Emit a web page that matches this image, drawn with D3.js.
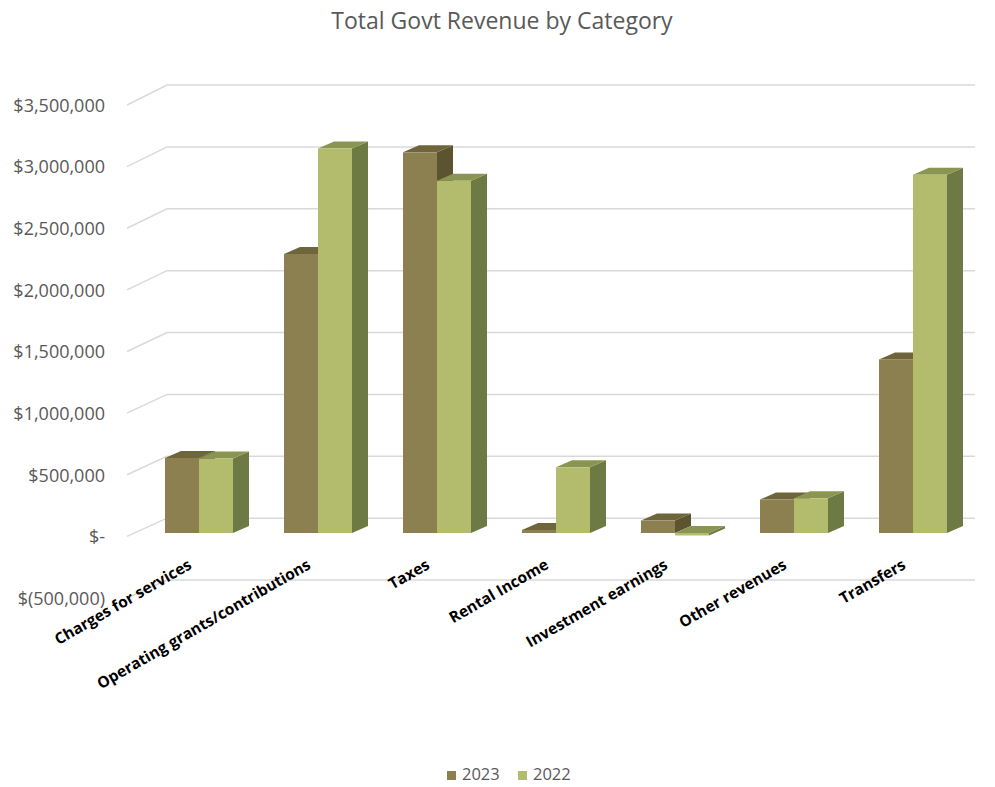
<!DOCTYPE html>
<html>
<head>
<meta charset="utf-8">
<script src="https://cdn.jsdelivr.net/npm/d3@7"></script>
<style>
  html, body { margin: 0; padding: 0; background: #ffffff; }
  svg { display: block; }
</style>
</head>
<body>
<svg id="chart" width="995" height="787"></svg>
<script>
const categories = ["Charges for services", "Operating grants/contributions", "Taxes", "Rental Income", "Investment earnings", "Other revenues", "Transfers"];
const seriesNames = ["2023", "2022"];
const values2023 = [605000, 2250000, 3070000, 25000, 100000, 270000, 1400000];
const values2022 = [600000, 3100000, 2840000, 530000, -20000, 280000, 2890000];
const tickValues = [-500000, 0, 500000, 1000000, 1500000, 2000000, 2500000, 3000000, 3500000];
const titleText = "Total Govt Revenue by Category";

const colors = {
  "2023": { front: "#8c8050", top: "#6e653b", side: "#5c5430" },
  "2022": { front: "#b3bc6c", top: "#8b9552", side: "#6e7a43" }
};

const svg = d3.select("#chart");
const font = "'Open Sans', sans-serif";

// scales
const yFront = d3.scaleLinear().domain([-500000, 3500000]).range([598, 105]);
const yBack = d3.scaleLinear().domain([-500000, 3500000]).range([580, 85]);
const yBar = d3.scaleLinear().domain([-500000, 3500000]).range([595, 99]);
const x = d3.scaleBand().domain(categories).range([139.5, 972.5]).padding(0);
const xs = d3.scaleBand().domain(seriesNames).range([25.5, 93.5]).padding(0);

const wallFrontX = 127, wallBackX = 167, gridRight = 975;
const dx = 16, dy = -7;

// title
svg.append("text")
  .attr("x", 502).attr("y", 29)
  .attr("text-anchor", "middle")
  .attr("font-family", font).attr("font-size", 23)
  .attr("fill", "#595959")
  .text(titleText);

// gridlines
const grid = svg.append("g");
tickValues.forEach(v => {
  grid.append("path")
    .attr("d", `M${wallFrontX},${yFront(v)}L${wallBackX},${yBack(v)}L${gridRight},${yBack(v)}`)
    .attr("fill", "none").attr("stroke", "#d9d9d9").attr("stroke-width", 1.5);
});

// y axis labels
const fmt = v => {
  if (v === 0) return "$-";
  const s = d3.format(",")(Math.abs(v));
  return v < 0 ? `$(${s})` : `$${s}`;
};
svg.append("g").selectAll("text").data(tickValues).join("text")
  .attr("x", 105).attr("y", d => yFront(d) + 2)
  .attr("text-anchor", "end").attr("dominant-baseline", "middle")
  .attr("font-family", font).attr("font-size", 18)
  .attr("fill", "#595959")
  .text(fmt);

// bars
const data = categories.map((c, i) => ({ cat: c, vals: [
  { s: "2023", v: values2023[i] },
  { s: "2022", v: values2022[i] }
]}));

const barsG = svg.append("g");
data.forEach(d => {
  d.vals.forEach(b => {
    const x0 = x(d.cat) + xs(b.s);
    const x1 = x0 + xs.bandwidth();
    const yt = yBar(Math.max(0, b.v));
    const yb = yBar(Math.min(0, b.v));
    const c = colors[b.s];
    const g = barsG.append("g");
    g.append("path")
      .attr("d", `M${x1},${yt}L${x1 + dx},${yt + dy}L${x1 + dx},${yb + dy}L${x1},${yb}Z`)
      .attr("fill", c.side);
    g.append("path")
      .attr("d", `M${x0},${yt}L${x1},${yt}L${x1 + dx},${yt + dy}L${x0 + dx},${yt + dy}Z`)
      .attr("fill", c.top);
    g.append("rect")
      .attr("x", x0).attr("y", yt)
      .attr("width", x1 - x0).attr("height", Math.max(0.8, yb - yt))
      .attr("fill", c.front);
  });
});

// category labels
svg.append("g").selectAll("text").data(categories).join("text")
  .attr("transform", d => `translate(${x(d) + x.bandwidth() / 2 - 13},${556}) rotate(-30)`)
  .attr("text-anchor", "end").attr("dominant-baseline", "hanging")
  .attr("font-family", font).attr("font-weight", "bold").attr("font-size", 15.5)
  .attr("fill", "#000000")
  .text(d => d);

// legend
const legend = svg.append("g");
const legendItems = [{ s: "2023", x: 447 }, { s: "2022", x: 518 }];
legendItems.forEach(it => {
  legend.append("rect").attr("x", it.x).attr("y", 771).attr("width", 9).attr("height", 9)
    .attr("fill", colors[it.s].front);
  legend.append("text").attr("x", it.x + 15).attr("y", 776)
    .attr("dominant-baseline", "middle")
    .attr("font-family", font).attr("font-size", 16.5).attr("fill", "#595959")
    .text(it.s);
});
</script>
</body>
</html>
